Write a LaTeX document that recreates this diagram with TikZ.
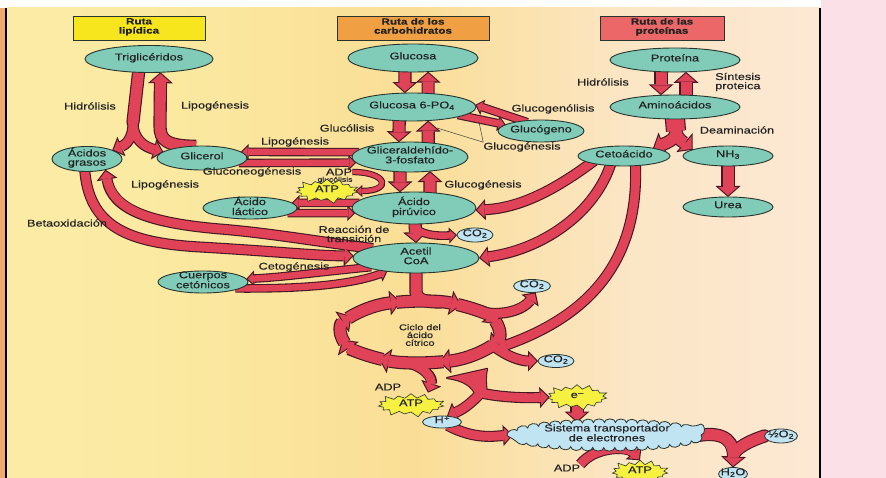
\documentclass[tikz,border=0pt]{standalone}
\usepackage{fontspec}
\setmainfont{Liberation Sans}[FakeStretch=1.3,FakeBold=0.3]
\usetikzlibrary{arrows.meta,shapes.geometric,shapes.symbols,calc,decorations.pathmorphing}
\pgfdeclarelayer{back}
\pgfdeclarelayer{mid}
\pgfsetlayers{back,mid,main}
\definecolor{redc}{RGB}{224,66,88}
\definecolor{bordc}{RGB}{70,22,34}
\definecolor{ellb}{RGB}{40,52,46}
\definecolor{tealc}{RGB}{128,204,184}
\definecolor{bluec}{RGB}{192,228,242}
\definecolor{starc}{RGB}{246,240,64}
\definecolor{txtc}{RGB}{34,34,34}
\definecolor{lipc}{RGB}{247,230,30}
\definecolor{carc}{RGB}{240,160,66}
\definecolor{proc}{RGB}{236,104,104}
\definecolor{pinkc}{RGB}{251,225,231}
\definecolor{orc}{RGB}{240,170,110}
\pgfdeclarehorizontalshading{bgshade}{100bp}{rgb(0bp)=(0.98,0.945,0.70); rgb(35bp)=(0.985,0.915,0.63); rgb(50bp)=(0.98,0.87,0.59); rgb(63bp)=(0.985,0.90,0.77); rgb(80bp)=(0.99,0.915,0.86); rgb(100bp)=(0.99,0.905,0.875)}
\newcommand\labfont{\fontsize{9.8}{9.2}\selectfont}
\newcommand\tinyfont{\fontsize{6.6}{6.6}\selectfont}
\newcommand\hdrfont{\fontsize{9}{8.6}\selectfont\bfseries}
\newcommand\cycfont{\fontsize{8.4}{7.8}\selectfont}
\newsavebox\ztbox
\newdimen\ztdim
\newcommand\zt[1]{%
 \setbox\ztbox=\hbox{\begin{tabular}{@{}c@{}}#1\end{tabular}}%
 \ztdim=\dimexpr(\dp\ztbox-\ht\ztbox)/2+0.8pt\relax
 \setbox\ztbox=\hbox to 0pt{\hss\raise\ztdim\box\ztbox\hss}%
 \ht\ztbox=0pt \dp\ztbox=0pt \box\ztbox}
\newcommand\sups[1]{\kern0.4pt\raisebox{2.6pt}{\fontsize{7}{7}\selectfont #1}}
\tikzset{
  pass outer/.style={
    B/.style={line width=13.2pt,draw=bordc,shorten <=-4pt,-{Triangle[width=25pt,length=11pt,line width=0pt]}},
    Bn/.style={line width=13.2pt,draw=bordc,line cap=round},
    M/.style={line width=11pt,draw=bordc,shorten <=-4pt,-{Triangle[width=21pt,length=10pt,line width=0pt]}},
    S/.style={line width=8.6pt,draw=bordc,shorten <=-4pt,-{Triangle[width=16pt,length=8pt,line width=0pt]}},
    T/.style={line width=6.4pt,draw=bordc,-{Triangle[width=12pt,length=7pt,line width=0pt]}},
    Wn/.style={line width=20.2pt,draw=bordc,shorten <=-4pt},
    FN/.style={fill=bordc,draw=bordc,line width=2.2pt,line join=round},
  },
  pass inner/.style={
    B/.style={line width=11pt,draw=redc,shorten <=-4pt,shorten >=1.46pt,-{Triangle[width=19.2pt,length=8.4pt,line width=0pt]}},
    Bn/.style={line width=11pt,draw=redc,line cap=round},
    M/.style={line width=8.8pt,draw=redc,shorten <=-4pt,shorten >=1.52pt,-{Triangle[width=15.5pt,length=7.4pt,line width=0pt]}},
    S/.style={line width=6.4pt,draw=redc,shorten <=-4pt,shorten >=1.56pt,-{Triangle[width=10.7pt,length=5.3pt,line width=0pt]}},
    T/.style={line width=4.4pt,draw=redc,shorten >=1.54pt,-{Triangle[width=7.6pt,length=4.5pt,line width=0pt]}},
    Wn/.style={line width=18pt,draw=redc,shorten <=-4pt},
    FN/.style={fill=redc,draw=none},
  },
  ell/.style={ellipse,draw=ellb,line width=0.9pt,fill=tealc,inner sep=0pt,outer sep=0pt,font=\labfont,text=txtc},
  bub/.style={ellipse,draw=ellb,line width=0.8pt,fill=bluec,inner sep=0pt,outer sep=0pt,font=\labfont,text=txtc},
  stb/.style={starburst,draw=ellb,line width=0.6pt,fill=starc,inner sep=0pt,outer sep=0pt,starburst points=15,starburst point height=6pt,font=\labfont,text=txtc},
  cld/.style={ellipse,draw=ellb,line width=0.8pt,fill=bluec,inner sep=0pt,outer sep=0pt,font=\labfont,text=txtc,decorate,decoration={bumps,mirror,segment length=22pt,amplitude=3.6pt}},
  hdr/.style={rectangle,draw=ellb,line width=0.9pt,inner sep=0pt,font=\hdrfont,text=txtc},
  lab/.style={inner sep=0pt,font=\labfont,text=txtc,align=center},
  ptr/.style={draw=ellb,line width=0.45pt},
}
\newcommand\allarrows{%
 % lipid route
 \draw[Bn] (tri.-128) -- (f1);
 \draw[M,shorten <=0pt] (f1) .. controls (133,140) and (125,145) .. (aci.19);
 \draw[M,shorten <=0pt] (f1) .. controls (133,140) and (145,147) .. (gli.171);
 \draw[B] (gli.130) .. controls (166,146) and (160,140) .. (160,126) -- (tri.-49);
 \draw[M] (aci.-100) .. controls (88,228) and (130,243) .. (200,247) .. controls (270,251) and (320,256) .. (aco.178);
 \draw[M] (aco.168) .. controls (320,242) and (270,233) .. (220,229) .. controls (150,223) and (112,210) .. (aci.-30);
 \draw[S] (g3p.175) -- (gli.9);
 \draw[S] (gli.-7) -- (g3p.186);
 \draw[S] (pir.175) -- (lac.7);
 \draw[S] (lac.-7) -- (pir.185);
 \draw[S] (aco.191) .. controls (320,272) and (285,277) .. (cue.4);
 \draw[S] (cue.-10) .. controls (300,289) and (350,285) .. (aco.205);
 % carbohydrate route
 \draw[B] (glu.-120) -- (g6p.117);
 \draw[B] (g6p.40) -- (glu.-42);
 \draw[B] (g6p.-133) -- (g3p.127);
 \draw[B] (g3p.38) -- (g6p.-40);
 \draw[B] (g3p.-124) -- (pir.132);
 \draw[B] (pir.44) -- (g3p.-35);
 \draw[S] (g6p.-10) -- (glg.170);
 \draw[S] (glg.150) -- (g6p.2);
 \draw[T] (adp0.east) .. controls (388,172) and (392,191) .. (atp0.east);
 \draw[B] (pir.-86) -- (aco.north);
 \draw[S,shorten <=0pt] (b1) .. controls (426,236) and (440,236) .. (co2a.west);
 \draw[Bn] (aco.south) -- (cA) .. controls (417,300) and (425,302) .. (ringT);
 % citric acid cycle
 \foreach \a/\b in {149/104,104/59,59/14,14/-31,-31/-76,-76/-121,-121/-166,-166/-211}
   {\draw[B] ({420+80*cos(\a)},{332-31*sin(\a)}) arc[start angle=\a,end angle=\b,x radius=80pt,y radius=31pt];}
 % protein route
 \draw[B] (pro.-140) -- (ami.140);
 \draw[B] (ami.47) -- (pro.-47);
 \draw[Wn] (ami.south) -- (f3);
 \draw[B,shorten <=0pt] (f3) .. controls (676,140) and (666,143) .. (cet.15);
 \draw[B,shorten <=0pt] (f3) .. controls (677,140) and (686,144) .. (nh3.170);
 \draw[B] (nh3.south) -- (ure.north);
 \draw[M] (cet.-168) .. controls (555,190) and (520,208) .. (pir.-2);
 \draw[M] (cet.-145) .. controls (595,215) and (540,250) .. (aco.0);
 \draw[M] (cet.-40) .. controls (640,260) and (590,315) .. (rD);
 % cycle outputs
 \draw[M] (rA) .. controls (505,318) and (525,308) .. (co2b.-60);
 \draw[M] (rB) .. controls (505,356) and (520,361) .. (co2c.west);
 \draw[M] (rC) .. controls (425,366) and (433,378) .. (atpin);
 \path[FN] (447,378) .. controls (463,380) and (473,386) .. (476,396) -- (487,394) .. controls (486,386) and (485,377) .. (487,369) -- cycle;
 \draw[M] (fn) .. controls (500,398) and (530,398) .. (e1.west);
 \draw[M] (fn) .. controls (474,400) and (466,408) .. (hp.50);
 \draw[B] (e1.south) -- (e1.south |- sis.north);
 \draw[M] (hp.-30) .. controls (475,440) and (495,436) .. (sis.west);
 \draw[B] (sis.east) .. controls (728,430) and (734,445) .. (h2o.north);
 \draw[Bn] (o2.west) .. controls (752,440) and (740,446) .. (jn);
 \draw[M,shorten <=0pt] (adp2.north east) .. controls (595,446) and (628,446) .. (atp2.north);
}
\begin{document}
\begin{tikzpicture}[x=1pt,y=-1pt]
\useasboundingbox (0,0) rectangle (886,478);
\begin{pgfonlayer}{back}
 \fill[white] (0,0) rectangle (886,478);
 \shade[shading=bgshade] (7,8) rectangle (820,478);
 \fill[pinkc] (821,0) rectangle (886,478);
 \fill[orc] (0,8) rectangle (5,478);
 \draw[black,line width=1.6pt] (6,8) -- (6,478);
 \draw[black,line width=1.6pt] (820,8) -- (820,478);
\end{pgfonlayer}
% headers
\node[hdr,fill=lipc,minimum width=132pt,minimum height=24pt] (hlip) at (139,28) {\zt{Ruta\\lipídica}};
\node[hdr,fill=carc,minimum width=152pt,minimum height=24pt] (hcar) at (413,28) {\zt{Ruta de los\\carbohidratos}};
\node[hdr,fill=proc,minimum width=124pt,minimum height=24pt] (hpro) at (662,28) {\zt{Ruta de las\\proteínas}};
% metabolites
\node[ell,minimum width=128pt,minimum height=27pt] (tri) at (149,59) {\zt{Triglicéridos}};
\node[ell,minimum width=70pt,minimum height=25pt] (aci) at (87,159) {\zt{Ácidos\\grasos}};
\node[ell,minimum width=90pt,minimum height=24pt] (gli) at (202,158) {\zt{Glicerol}};
\node[ell,minimum width=130pt,minimum height=28pt] (glu) at (413,58) {\zt{Glucosa}};
\node[ell,minimum width=128pt,minimum height=28pt] (g6p) at (412,107) {\zt{Glucosa 6-PO\textsubscript{4}}};
\node[ell,minimum width=86pt,minimum height=22pt] (glg) at (541,131) {\zt{Glucógeno}};
\node[ell,minimum width=116pt,minimum height=30pt] (g3p) at (410,157) {\zt{Gliceraldehído-\\3-fosfato}};
\node[ell,minimum width=94pt,minimum height=22pt] (lac) at (250,208) {\zt{Ácido\\láctico}};
\node[ell,minimum width=124pt,minimum height=32pt] (pir) at (414,208) {\zt{Ácido\\pirúvico}};
\node[ell,minimum width=126pt,minimum height=30pt] (aco) at (416,258) {\zt{Acetil\\CoA}};
\node[ell,minimum width=90pt,minimum height=22pt] (cue) at (203,282) {\zt{Cuerpos\\cetónicos}};
\node[ell,minimum width=130pt,minimum height=24pt] (pro) at (675,60) {\zt{Proteína}};
\node[ell,minimum width=130pt,minimum height=24pt] (ami) at (675,107) {\zt{Aminoácidos}};
\node[ell,minimum width=92pt,minimum height=20pt] (cet) at (624,156) {\zt{Cetoácido}};
\node[ell,minimum width=90pt,minimum height=20pt] (nh3) at (728,156) {\zt{NH\textsubscript{3}}};
\node[ell,minimum width=90pt,minimum height=20pt] (ure) at (728,207) {\zt{Urea}};
% labels
\node[lab] (l1) at (90,106) {Hidrólisis};
\node[lab] (l2) at (215,106) {Lipogénesis};
\node[lab] (l3) at (347,128) {Glucólisis};
\node[lab] (l4) at (553,109) {Glucogenólisis};
\node[lab] (l5) at (522,147) {Glucogénesis};
\node[lab] (l6) at (295,142) {Lipogénesis};
\node[lab] (l7) at (252,172) {Gluconeogénesis};
\node[lab] (l8) at (165,185) {Lipogénesis};
\node[lab] (l9) at (483,185) {Glucogénesis};
\node[lab] (l10) at (67,223) {Betaoxidación};
\node[lab] (l11) at (354,234) {Reacción de\\transición};
\node[lab] (l12) at (294,267) {Cetogénesis};
\node[lab] (l13) at (603,82) {Hidrólisis};
\node[lab,align=left,anchor=west] (l14) at (715,82) {Síntesis\\proteica};
\node[lab] (l15) at (737,130) {Deaminación};
\node[lab] (adp0) at (339,172) {ADP};
\node[lab,font=\tinyfont] (glc0) at (335,180) {glucólisis};
\node[stb,minimum width=66pt,minimum height=27pt] (atp0) at (327,191) {\zt{ATP}};
\node[lab,font=\cycfont] (cyc) at (420,335) {Ciclo del\\ácido\\cítrico};
\node[bub,minimum width=36pt,minimum height=14pt] (co2a) at (475,235) {\zt{CO\textsubscript{2}}};
\node[bub,minimum width=37pt,minimum height=13pt] (co2b) at (532,286) {\zt{CO\textsubscript{2}}};
\node[bub,minimum width=36pt,minimum height=13pt] (co2c) at (556,361) {\zt{CO\textsubscript{2}}};
\node[lab] (adp1) at (388,387) {ADP};
\node[stb,minimum width=70pt,minimum height=26pt] (atp1) at (411,405) {\zt{ATP}};
\node[bub,minimum width=39pt,minimum height=12pt] (hp) at (442,422) {\zt{H\sups{+}}};
\node[stb,minimum width=64pt,minimum height=28pt] (e1) at (577,397) {\zt{e\sups{–}}};
\node[cld,minimum width=188pt,minimum height=25pt] (sis) at (607,435) {\zt{Sistema transportador\\de electrones}};
\node[lab] (adp2) at (567,468) {ADP};
\node[stb,minimum width=60pt,minimum height=27pt] (atp2) at (640,472) {\zt{ATP}};
\node[bub,minimum width=33pt,minimum height=14pt] (o2) at (781,436) {\zt{½O\textsubscript{2}}};
\node[bub,minimum width=29pt,minimum height=13pt] (h2o) at (733,474) {\zt{H\textsubscript{2}O}};
% junction points
\coordinate (f1) at (133,122);
\coordinate (f3) at (676,131);
\coordinate (b1) at (416,229);
\coordinate (cA) at (416,292);
\coordinate (ringT) at (440,302);
\coordinate (rA) at (481,312);
\coordinate (rB) at (492,345);
\coordinate (rC) at (406,362);
\coordinate (rD) at (498,348);
\coordinate (atpin) at ($(atp1.north)+(17,-1)$);
\coordinate (fn) at (481,393);
\coordinate (jn) at (735,452);
\coordinate (gp1) at (437,128);
\coordinate (gp2) at (479,122);
\begin{pgfonlayer}{mid}
 \begin{scope}[pass outer]\allarrows\end{scope}
 \begin{scope}[pass inner]\allarrows\end{scope}
\end{pgfonlayer}
\draw[ptr] (l5.north west) -- (gp1);
\draw[ptr] (l5.north west) -- (gp2);
\end{tikzpicture}
\end{document}
